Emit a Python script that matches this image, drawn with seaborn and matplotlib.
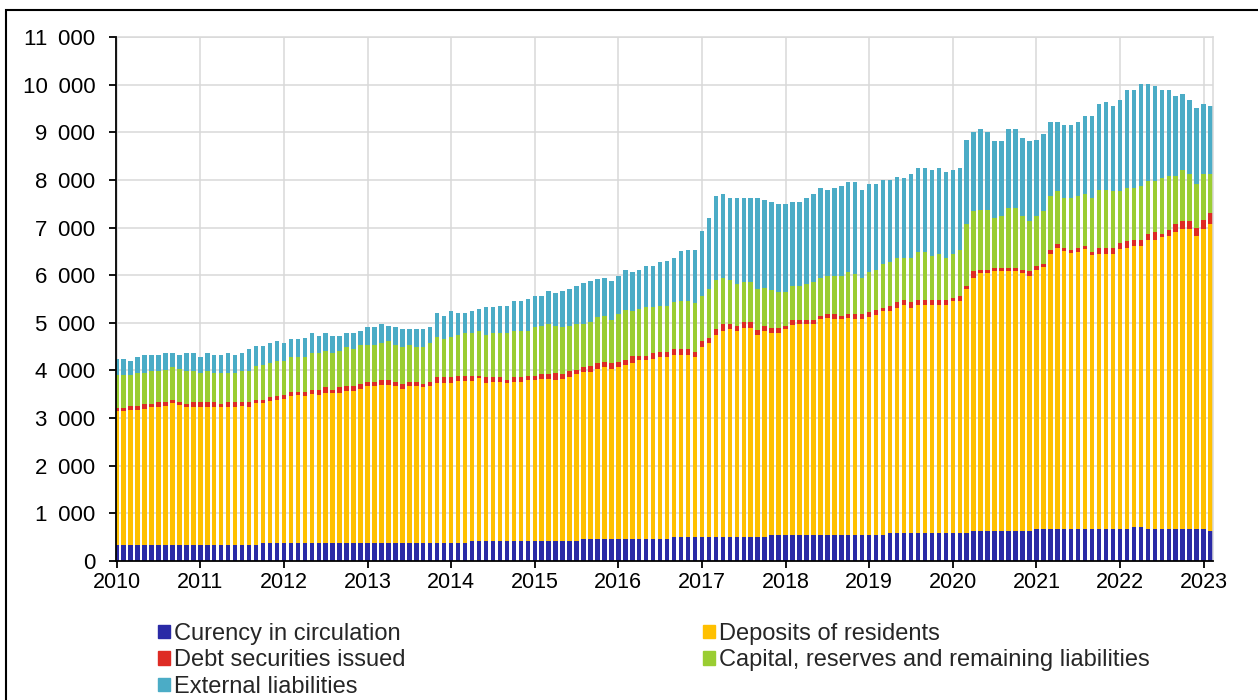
import matplotlib
matplotlib.use("Agg")
import matplotlib.pyplot as plt
from matplotlib.patches import Rectangle, Patch
import numpy as np
import seaborn as sns

# --- Data (monthly, Jan 2010 - Feb 2023) ---
years = list(range(2010, 2024))

currency = [
    340, 340, 340, 340, 340, 340, 340, 340, 340, 340, 340, 340,
    340, 340, 340, 340, 340, 340, 340, 340, 340, 380, 380, 380,
    380, 380, 380, 380, 380, 380, 380, 380, 380, 380, 380, 380,
    380, 380, 380, 380, 380, 380, 380, 380, 380, 380, 380, 380,
    380, 380, 380, 420, 420, 420, 420, 420, 420, 420, 420, 420,
    420, 420, 420, 420, 420, 420, 420, 460, 460, 460, 460, 460,
    460, 460, 460, 460, 460, 460, 460, 460, 500, 500, 500, 500,
    500, 500, 500, 500, 500, 500, 500, 500, 500, 500, 550, 550,
    550, 550, 550, 550, 550, 550, 550, 550, 550, 550, 550, 550,
    550, 550, 550, 590, 590, 590, 590, 590, 590, 590, 590, 590,
    590, 590, 590, 630, 630, 630, 630, 630, 630, 630, 630, 630,
    670, 670, 670, 670, 670, 670, 670, 670, 670, 670, 670, 670,
    670, 670, 710, 710, 670, 670, 670, 670, 670, 670, 670, 670,
    670, 630,
]

deposits = [
    2800, 2800, 2820, 2820, 2850, 2890, 2900, 2920, 2970, 2940, 2900, 2890,
    2890, 2890, 2890, 2890, 2890, 2890, 2920, 2900, 2970, 2930, 2970, 3000,
    3020, 3080, 3110, 3080, 3130, 3110, 3140, 3150, 3150, 3180, 3180, 3230,
    3290, 3290, 3320, 3320, 3290, 3230, 3290, 3290, 3270, 3300, 3350, 3350,
    3350, 3390, 3390, 3350, 3420, 3310, 3330, 3330, 3310, 3340, 3330, 3370,
    3370, 3400, 3400, 3370, 3400, 3450, 3510, 3500, 3500, 3570, 3610, 3570,
    3610, 3660, 3690, 3750, 3750, 3790, 3820, 3820, 3820, 3820, 3820, 3780,
    3990, 4070, 4250, 4330, 4370, 4330, 4400, 4400, 4250, 4330, 4230, 4230,
    4320, 4400, 4430, 4430, 4430, 4530, 4550, 4530, 4530, 4560, 4530, 4530,
    4580, 4620, 4690, 4660, 4730, 4780, 4730, 4780, 4780, 4780, 4780, 4780,
    4870, 4870, 5110, 5320, 5410, 5410, 5450, 5450, 5450, 5450, 5410, 5350,
    5440, 5500, 5780, 5910, 5840, 5800, 5820, 5870, 5750, 5780, 5780, 5780,
    5870, 5910, 5910, 5910, 6070, 6070, 6130, 6160, 6240, 6290, 6290, 6160,
    6290, 6450,
]

debt = [
    70, 70, 100, 100, 110, 70, 90, 80, 80, 60, 60, 110,
    110, 110, 110, 70, 110, 110, 80, 100, 80, 80, 90, 90,
    80, 90, 60, 90, 90, 110, 130, 70, 120, 120, 120, 110,
    90, 90, 110, 110, 90, 110, 90, 90, 70, 80, 130, 130,
    130, 120, 120, 120, 50, 130, 110, 110, 80, 100, 110, 100,
    100, 110, 110, 150, 110, 110, 90, 110, 140, 120, 110, 120,
    110, 100, 160, 100, 100, 110, 110, 110, 120, 120, 120, 110,
    120, 120, 120, 140, 100, 110, 120, 120, 90, 110, 120, 120,
    70, 100, 70, 70, 70, 70, 80, 100, 70, 70, 100, 100,
    100, 90, 80, 110, 120, 100, 120, 100, 100, 100, 100, 100,
    70, 110, 80, 130, 70, 70, 80, 80, 80, 80, 70, 100,
    80, 70, 80, 80, 70, 60, 90, 80, 70, 130, 130, 130,
    130, 130, 120, 120, 130, 170, 70, 120, 170, 170, 170, 170,
    200, 220,
]

capital = [
    690, 690, 640, 680, 650, 680, 650, 680, 680, 690, 680, 640,
    610, 640, 610, 650, 610, 610, 640, 640, 710, 730, 710, 720,
    710, 730, 730, 730, 760, 760, 750, 760, 750, 810, 770, 810,
    770, 770, 760, 800, 770, 770, 770, 730, 770, 810, 840, 800,
    840, 860, 890, 890, 930, 890, 920, 920, 970, 960, 960, 930,
    1020, 1010, 1050, 1000, 980, 960, 960, 910, 910, 970, 970, 910,
    1010, 1050, 930, 980, 1020, 970, 970, 970, 990, 1010, 1010, 1020,
    960, 1020, 1030, 980, 930, 880, 840, 840, 870, 800, 790, 750,
    710, 730, 730, 770, 810, 800, 810, 810, 840, 890, 840, 770,
    840, 850, 920, 920, 920, 890, 920, 1020, 1020, 940, 970, 890,
    920, 960, 1300, 1260, 1260, 1260, 1040, 1090, 1250, 1250, 1140, 1050,
    1060, 1100, 1140, 1100, 1050, 1100, 1090, 1090, 1140, 1210, 1210, 1180,
    1090, 1120, 1090, 1140, 1100, 1060, 1180, 1140, 1010, 1080, 1000, 920,
    970, 830,
]

external = [
    340, 340, 290, 340, 370, 340, 340, 340, 290, 290, 380, 380,
    330, 380, 370, 370, 410, 370, 380, 470, 420, 400, 420, 420,
    380, 380, 380, 400, 420, 370, 380, 370, 330, 290, 330, 290,
    380, 380, 410, 330, 380, 380, 340, 380, 380, 340, 500, 490,
    540, 450, 420, 460, 470, 580, 550, 580, 580, 630, 630, 680,
    660, 630, 680, 680, 750, 760, 800, 850, 860, 790, 790, 810,
    800, 840, 820, 820, 870, 870, 910, 930, 930, 1050, 1080, 1120,
    1350, 1500, 1770, 1750, 1720, 1800, 1760, 1760, 1910, 1840, 1850, 1840,
    1840, 1760, 1760, 1800, 1840, 1880, 1800, 1840, 1890, 1890, 1940, 1840,
    1840, 1800, 1750, 1710, 1710, 1680, 1760, 1760, 1760, 1790, 1810, 1810,
    1760, 1720, 1760, 1670, 1690, 1640, 1610, 1560, 1650, 1650, 1630, 1680,
    1590, 1630, 1550, 1460, 1520, 1520, 1550, 1640, 1720, 1810, 1850, 1800,
    1920, 2060, 2060, 2140, 2050, 2010, 1840, 1800, 1680, 1600, 1550, 1600,
    1470, 1430,
]

series = [
    ("Curency in circulation", currency, "#2A2AA6"),
    ("Deposits of residents", deposits, "#FFC000"),
    ("Debt securities issued", debt, "#DE2B24"),
    ("Capital, reserves and remaining liabilities", capital, "#9ACD32"),
    ("External liabilities", external, "#4BACC6"),
]

# --- Plot ---
sns.set_theme(style="whitegrid")
plt.rcParams["font.family"] = ["Liberation Sans", "DejaVu Sans"]

fig = plt.figure(figsize=(12.58, 7.0), dpi=100)
ax = fig.add_axes([116 / 1258, 1 - 561 / 700, (1213 - 116) / 1258, (561 - 37) / 700])

x = np.arange(len(currency))
bottom = np.zeros(len(currency))
for name, vals, color in series:
    ax.bar(x, vals, bottom=bottom, width=0.64, color=color, linewidth=0, label=name, zorder=2)
    bottom += np.array(vals)

ax.set_xlim(-0.1, 157.35)
ax.set_ylim(0, 11000)
ax.set_xticks([12 * k for k in range(len(years))])
ax.set_xticklabels([str(y) for y in years])
yt = list(range(0, 11001, 1000))
ax.set_yticks(yt)
# thousands separated by a space (slightly widened)
ax.set_yticklabels([f"{v:,}".replace(",", " \u2009") for v in yt])

ax.set_facecolor("white")
ax.grid(True, color="#D9D9D9", linewidth=1.1, zorder=0)
ax.set_axisbelow(True)
for side in ["top", "right"]:
    ax.spines[side].set_color("#D9D9D9")
    ax.spines[side].set_linewidth(1.1)
for side in ["left", "bottom"]:
    ax.spines[side].set_color("black")
    ax.spines[side].set_linewidth(1.3)
    ax.spines[side].set_zorder(5)
ax.tick_params(axis="both", which="major", direction="out", length=5, width=1.3,
               color="black", labelcolor="black", bottom=True, left=True)
ax.tick_params(axis="y", pad=10, labelsize=16)
ax.tick_params(axis="x", pad=3, labelsize=15.5)

# legend (column-major order to get the reference layout)
handles = [Patch(color=c, label=n) for n, _, c in series]
order = [0, 2, 4, 1, 3]
fig.legend([handles[i] for i in order], [series[i][0] for i in order],
           loc="upper left", bbox_to_anchor=(158 / 1258, 1 - 623 / 700),
           ncol=2, frameon=False, fontsize=17, handlelength=0.5, handleheight=0.5,
           handletextpad=0.17, labelspacing=0.19, columnspacing=12.6, borderpad=0,
           borderaxespad=0)

# outer frame
fig.patches.append(Rectangle((6 / 1258, -0.05), 1.2, 1.05 - 10 / 700,
                             transform=fig.transFigure, fill=False,
                             edgecolor="black", linewidth=1.5, zorder=10))

fig.savefig("out.png", dpi=100, facecolor="white")
